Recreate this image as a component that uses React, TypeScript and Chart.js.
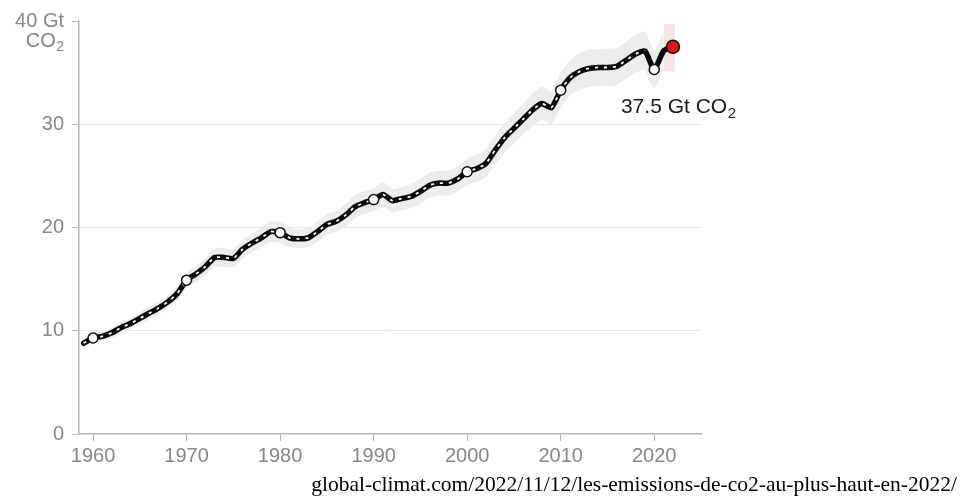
import React, { useEffect, useRef } from "react";
import { Chart, registerables } from "chart.js";

Chart.register(...registerables);

const YEARS = [
  1959, 1960, 1961, 1962, 1963, 1964, 1965, 1966, 1967, 1968, 1969,
  1970, 1971, 1972, 1973, 1974, 1975, 1976, 1977, 1978, 1979,
  1980, 1981, 1982, 1983, 1984, 1985, 1986, 1987, 1988, 1989,
  1990, 1991, 1992, 1993, 1994, 1995, 1996, 1997, 1998, 1999,
  2000, 2001, 2002, 2003, 2004, 2005, 2006, 2007, 2008, 2009,
  2010, 2011, 2012, 2013, 2014, 2015, 2016, 2017, 2018, 2019,
  2020, 2021, 2022,
];
const EMISSIONS = [
  8.8, 9.3, 9.45, 9.8, 10.3, 10.7, 11.2, 11.7, 12.2, 12.8, 13.6,
  14.9, 15.5, 16.2, 17.1, 17.1, 17.0, 17.9, 18.5, 19.0, 19.6,
  19.5, 19.0, 18.9, 19.0, 19.6, 20.3, 20.6, 21.2, 22.0, 22.4,
  22.7, 23.2, 22.6, 22.8, 23.0, 23.5, 24.1, 24.3, 24.3, 24.7,
  25.4, 25.7, 26.2, 27.5, 28.7, 29.6, 30.5, 31.4, 32.0, 31.6,
  33.3, 34.5, 35.1, 35.4, 35.5, 35.5, 35.6, 36.2, 36.8, 37.1,
  35.3, 37.1, 37.5,
];
const BAND_HIGH = [
  9.2, 9.8, 9.9, 10.3, 10.8, 11.2, 11.8, 12.3, 12.8, 13.4, 14.3,
  15.6, 16.3, 17.0, 18.0, 18.0, 17.9, 18.8, 19.4, 20.0, 20.6,
  20.5, 20.0, 19.8, 20.0, 20.6, 21.3, 21.6, 22.3, 23.1, 23.5,
  23.8, 24.4, 23.7, 23.9, 24.2, 24.7, 25.3, 25.5, 25.5, 25.9,
  26.7, 27.0, 27.5, 28.9, 30.1, 31.1, 32.0, 33.0, 33.6, 33.2,
  35.0, 36.2, 36.9, 37.2, 37.3, 37.3, 37.4, 38.0, 38.6, 39.0,
  37.1, 39.0,
];
const BAND_LOW = [
  8.4, 8.8, 9.0, 9.3, 9.8, 10.2, 10.6, 11.1, 11.6, 12.2, 12.9,
  14.2, 14.7, 15.4, 16.2, 16.2, 16.2, 17.0, 17.6, 18.1, 18.6,
  18.5, 18.1, 18.0, 18.1, 18.6, 19.3, 19.6, 20.1, 20.9, 21.3,
  21.6, 22.0, 21.5, 21.7, 21.9, 22.3, 22.9, 23.1, 23.1, 23.5,
  24.1, 24.4, 24.9, 26.1, 27.3, 28.1, 29.0, 29.8, 30.4, 30.0,
  31.6, 32.8, 33.3, 33.6, 33.7, 33.7, 33.8, 34.4, 35.0, 35.2,
  33.5, 35.2,
];
const MARKER_YEARS = [1960, 1970, 1980, 1990, 2000, 2010, 2020];
const LATEST_YEAR = 2022;
const PROJ_YEARS = [2021, 2022.2];
const PROJ_HIGH = [39.7, 39.7];
const PROJ_LOW = [35.1, 35.1];
const DASH_END_YEAR = 2019;
const X_TICKS = [1960, 1970, 1980, 1990, 2000, 2010, 2020];
const Y_TICKS = [0, 10, 20, 30, 40];
const Y_TOP_LABEL = "40 Gt";
const Y_UNIT = "CO";
const ANNOTATION = "37.5 Gt CO";
const SUB = "2";
const SOURCE = "global-climat.com/2022/11/12/les-emissions-de-co2-au-plus-haut-en-2022/";

const FONT = "'Liberation Sans', Arial, Helvetica, sans-serif";
const GREY = "#878787";
const AXIS = "#b8b8b8";

const pts = (xs: number[], ys: number[]) => xs.map((x, i) => ({ x, y: ys[i] }));

const textPlugin = {
  id: "texts",
  afterDraw(chart: any) {
    const { ctx, scales, chartArea } = chart;
    const xs = scales.x;
    const ys = scales.y;
    ctx.save();
    // unit under the top tick label
    const right = chartArea.left - 7 - 8;
    const baseY = ys.getPixelForValue(40) + 26;
    ctx.fillStyle = GREY;
    ctx.textBaseline = "alphabetic";
    ctx.textAlign = "right";
    ctx.font = `14px ${FONT}`;
    const sw = ctx.measureText(SUB).width;
    ctx.fillText(SUB, right, baseY + 4);
    ctx.font = `20px ${FONT}`;
    ctx.fillText(Y_UNIT, right - sw - 0.5, baseY);

    // annotation
    const ax = xs.getPixelForValue(LATEST_YEAR) - 52;
    const ay = ys.getPixelForValue(37.5) + 66;
    ctx.fillStyle = "#1b1b1b";
    ctx.textAlign = "left";
    ctx.font = `21px ${FONT}`;
    ctx.fillText(ANNOTATION, ax, ay);
    const w = ctx.measureText(ANNOTATION).width;
    ctx.font = `15px ${FONT}`;
    ctx.fillText(SUB, ax + w + 0.5, ay + 5);
    ctx.restore();
  },
};

export default function App() {
  const ref = useRef<HTMLCanvasElement | null>(null);

  useEffect(() => {
    if (!ref.current) return;
    const series = pts(YEARS, EMISSIONS);
    const bandYears = YEARS.slice(0, BAND_HIGH.length);
    const markers = MARKER_YEARS.map((yr) => ({ x: yr, y: EMISSIONS[YEARS.indexOf(yr)] }));
    const latest = [{ x: LATEST_YEAR, y: EMISSIONS[YEARS.indexOf(LATEST_YEAR)] }];

    const chart = new Chart(ref.current, {
      type: "line",
      data: {
        datasets: [
          {
            data: markers,
            showLine: false,
            pointRadius: 5,
            pointBackgroundColor: "#ffffff",
            pointBorderColor: "#111111",
            pointBorderWidth: 1.5,
            order: 0,
          } as any,
          {
            data: latest,
            showLine: false,
            pointRadius: 6.5,
            pointBackgroundColor: "#e8121a",
            pointBorderColor: "#111111",
            pointBorderWidth: 1.5,
            order: 0,
          } as any,
          {
            data: series,
            borderColor: "#ffffff",
            borderWidth: 1.8,
            borderDash: [3, 6],
            pointRadius: 0,
            tension: 0.2,
            segment: {
              borderColor: (c: any) => (c.p0.parsed.x >= DASH_END_YEAR ? "rgba(0,0,0,0)" : "#ffffff"),
            },
            order: 1,
          } as any,
          {
            data: series,
            borderColor: "#0a0a0a",
            borderWidth: 5.5,
            borderJoinStyle: "round",
            borderCapStyle: "round",
            pointRadius: 0,
            tension: 0.2,
            order: 2,
          } as any,
          {
            data: pts(bandYears, BAND_HIGH),
            borderWidth: 0,
            pointRadius: 0,
            tension: 0.2,
            fill: "+1",
            backgroundColor: "#ececec",
            order: 3,
          } as any,
          {
            data: pts(bandYears, BAND_LOW),
            borderWidth: 0,
            pointRadius: 0,
            tension: 0.2,
            order: 3,
          } as any,
          {
            data: pts(PROJ_YEARS, PROJ_HIGH),
            borderWidth: 0,
            pointRadius: 0,
            fill: "+1",
            backgroundColor: "rgba(232,160,160,0.3)",
            order: 3,
          } as any,
          {
            data: pts(PROJ_YEARS, PROJ_LOW),
            borderWidth: 0,
            pointRadius: 0,
            order: 3,
          } as any,
        ],
      },
      options: {
        responsive: false,
        animation: false,
        layout: { padding: { left: 0, right: 259, top: 21, bottom: 0 } },
        plugins: {
          legend: { display: false },
          tooltip: { enabled: false },
          title: { display: false },
        },
        scales: {
          x: {
            type: "linear",
            min: 1958.5,
            max: 2025,
            afterBuildTicks: (s: any) => {
              s.ticks = X_TICKS.map((v) => ({ value: v }));
            },
            afterFit: (s: any) => {
              s.height = 67;
            },
            grid: {
              drawOnChartArea: false,
              drawTicks: true,
              tickLength: 7,
              tickColor: AXIS,
              tickWidth: 1,
            },
            border: { color: AXIS, width: 1.5 },
            ticks: {
              color: GREY,
              font: { family: FONT, size: 20 },
              padding: 3,
              maxRotation: 0,
              autoSkip: false,
              callback: (v: any) => String(v),
            },
          } as any,
          y: {
            min: 0,
            max: 40,
            afterBuildTicks: (s: any) => {
              s.ticks = Y_TICKS.map((v) => ({ value: v }));
            },
            afterFit: (s: any) => {
              s.width = 79;
            },
            grid: {
              color: (c: any) => (c.tick && (c.tick.value === 40 || c.tick.value === 0) ? "rgba(0,0,0,0)" : "#e9e9e9"),
              lineWidth: 1,
              drawTicks: true,
              tickLength: 7,
              tickColor: AXIS,
              tickWidth: 1,
            },
            border: { color: AXIS, width: 1.5 },
            ticks: {
              color: GREY,
              font: { family: FONT, size: 20 },
              padding: 8,
              callback: (v: any) => (v === 40 ? Y_TOP_LABEL : String(v)),
            },
          } as any,
        },
      },
      plugins: [textPlugin],
    });
    return () => chart.destroy();
  }, []);

  return (
    <div style={{ position: "absolute", left: 0, top: 0, width: 960, height: 501, background: "#ffffff", overflow: "hidden" }}>
      <canvas ref={ref} width={960} height={501} style={{ display: "block" }} />
      <div
        style={{
          position: "absolute",
          right: 3,
          top: 472,
          fontFamily: "'Liberation Serif', 'Times New Roman', serif",
          fontSize: 21.5,
          color: "#000000",
          whiteSpace: "nowrap",
          lineHeight: "24px",
        }}
      >
        {SOURCE}
      </div>
    </div>
  );
}
